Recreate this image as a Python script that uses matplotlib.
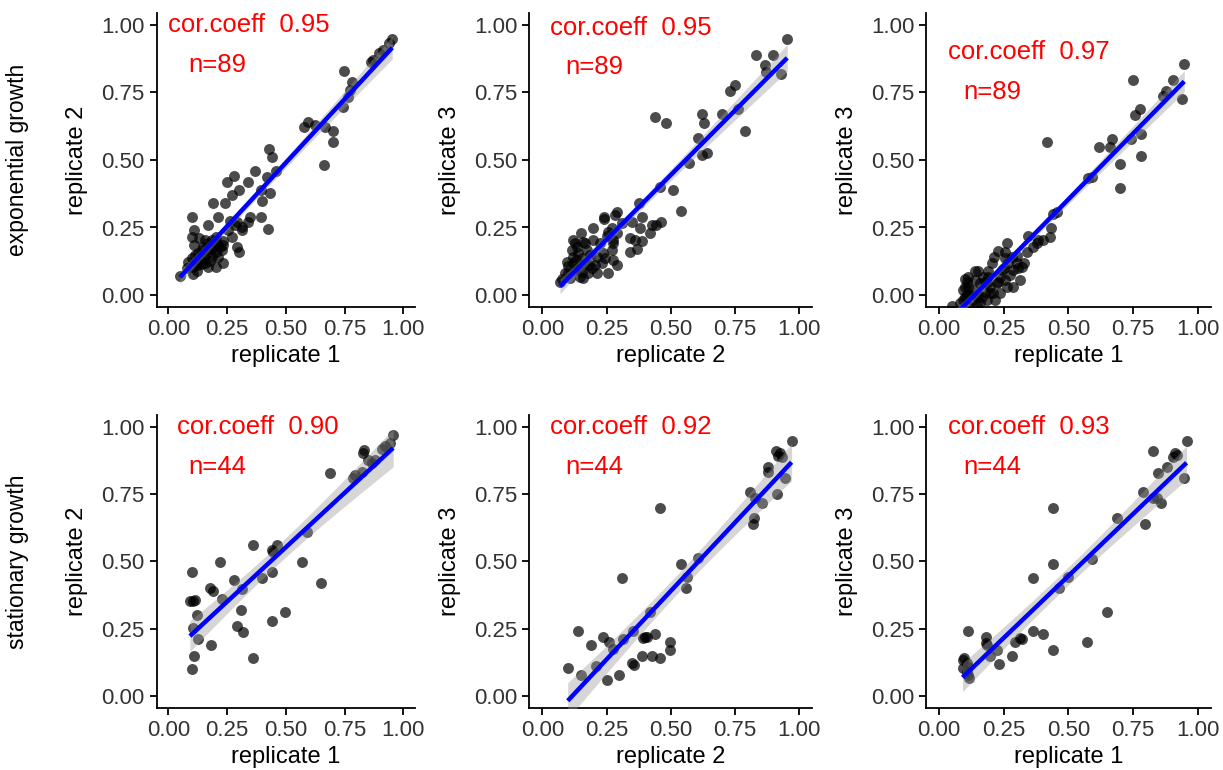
import numpy as np
import matplotlib
matplotlib.use("Agg")
import matplotlib.pyplot as plt

plt.rcParams['font.family'] = ['Liberation Sans', 'DejaVu Sans']

# ---------------- data ----------------
# exponential growth: replicate 1 (x) vs replicate 2 (y)
exp_r1_a = [0.953,0.940,0.915,0.898,0.872,0.862,0.749,0.780,0.773,0.763,
            0.745,0.579,0.593,0.624,0.667,0.702,0.699,0.661,0.430,0.440,
            0.457,0.369,0.418,0.281,0.248,0.340,0.301,0.270,0.394,0.433,
            0.400,0.191,0.241,0.099,0.210,0.170,0.262,0.291,0.348,0.394,
            0.340,0.255,0.312,0.423,0.111,0.099,0.130,0.201,0.231,0.291,
            0.301,0.196,0.227,0.142,0.113,0.163,0.182,0.187,0.099,0.135,
            0.156,0.213,0.234,0.201,0.142,0.106,0.050,0.106,0.121,0.203,
            0.170,0.220,0.153,0.128,0.177,0.085,0.284,0.315,0.121,0.170,
            0.206,0.149,0.111,0.187,0.270,0.156,0.078,0.234,0.128]
exp_r2_a = [0.948,0.932,0.907,0.895,0.870,0.864,0.830,0.790,0.759,0.732,
            0.698,0.621,0.640,0.630,0.621,0.607,0.568,0.481,0.540,0.510,
            0.458,0.459,0.438,0.442,0.420,0.420,0.389,0.370,0.389,0.379,
            0.349,0.342,0.342,0.290,0.288,0.259,0.275,0.272,0.290,0.290,
            0.269,0.241,0.241,0.243,0.241,0.216,0.210,0.214,0.201,0.179,
            0.160,0.179,0.167,0.167,0.148,0.154,0.169,0.142,0.136,0.130,
            0.120,0.140,0.120,0.102,0.115,0.102,0.072,0.078,0.090,0.160,
            0.191,0.177,0.140,0.157,0.127,0.123,0.259,0.253,0.117,0.105,
            0.191,0.179,0.185,0.204,0.216,0.204,0.099,0.185,0.111]

# exponential growth: replicate 2 (x) vs replicate 3 (y)
exp_r2_b = [0.953,0.830,0.899,0.866,0.869,0.929,0.730,0.750,0.763,0.698,
            0.620,0.630,0.789,0.438,0.480,0.607,0.620,0.639,0.571,0.458,
            0.508,0.540,0.377,0.389,0.289,0.283,0.240,0.240,0.198,0.270,
            0.350,0.425,0.441,0.462,0.150,0.250,0.276,0.289,0.341,0.389,
            0.419,0.341,0.370,0.127,0.160,0.114,0.121,0.173,0.140,0.237,
            0.276,0.289,0.099,0.127,0.205,0.211,0.257,0.147,0.160,0.075,
            0.069,0.101,0.121,0.166,0.192,0.244,0.211,0.134,0.153,0.179,
            0.108,0.095,0.185,0.140,0.231,0.166,0.198,0.276,0.121,0.156,
            0.088,0.270,0.257,0.311,0.380,0.224,0.361,0.130,0.180]
exp_r3_b = [0.947,0.889,0.889,0.852,0.827,0.819,0.757,0.778,0.688,0.670,
            0.669,0.638,0.609,0.658,0.638,0.580,0.519,0.527,0.488,0.399,
            0.389,0.310,0.342,0.290,0.309,0.296,0.290,0.280,0.249,0.247,
            0.272,0.259,0.259,0.272,0.231,0.219,0.191,0.231,0.210,0.201,
            0.231,0.160,0.169,0.191,0.198,0.167,0.142,0.167,0.154,0.154,
            0.130,0.111,0.107,0.093,0.111,0.080,0.080,0.068,0.062,0.058,
            0.049,0.080,0.117,0.117,0.099,0.136,0.142,0.179,0.136,0.080,
            0.062,0.123,0.148,0.099,0.117,0.191,0.204,0.204,0.204,0.086,
            0.080,0.167,0.235,0.265,0.247,0.191,0.204,0.130,0.110]

# exponential growth: replicate 1 (x) vs replicate 3 (y)
exp_r1_c = [0.948,0.751,0.906,0.878,0.867,0.941,0.777,0.758,0.670,0.620,
            0.661,0.741,0.780,0.780,0.700,0.700,0.416,0.577,0.590,0.455,
            0.442,0.432,0.429,0.403,0.384,0.365,0.345,0.339,0.262,0.229,
            0.213,0.255,0.300,0.300,0.307,0.274,0.287,0.313,0.242,0.236,
            0.236,0.191,0.197,0.152,0.113,0.113,0.107,0.101,0.126,0.152,
            0.178,0.197,0.210,0.159,0.052,0.120,0.146,0.094,0.133,0.159,
            0.184,0.216,0.107,0.139,0.171,0.184,0.223,0.255,0.268,0.281,
            0.204,0.120,0.091,0.101,0.081,0.165,0.262,0.320,0.378,0.255,
            0.178,0.146,0.229,0.287,0.190,0.140,0.250,0.330,0.100]
exp_r3_c = [0.856,0.796,0.796,0.757,0.737,0.725,0.688,0.667,0.577,0.547,
            0.547,0.577,0.596,0.516,0.485,0.398,0.565,0.432,0.438,0.309,
            0.300,0.247,0.214,0.204,0.204,0.177,0.219,0.160,0.191,0.164,
            0.140,0.136,0.144,0.117,0.099,0.074,0.031,0.056,0.093,0.068,
            0.006,0.068,0.031,0.089,0.068,0.031,0.000,-0.006,-0.019,0.000,
            0.012,0.006,0.006,-0.031,-0.040,-0.043,-0.037,-0.019,0.019,0.043,
            -0.019,-0.019,0.049,0.056,0.068,0.043,0.043,0.056,0.117,0.142,
            0.117,0.000,0.019,0.031,-0.031,-0.006,0.031,0.105,0.191,0.160,
            0.049,-0.006,0.049,0.093,0.090,0.090,0.100,0.120,0.060]

# stationary growth: replicate 1 (x) vs replicate 2 (y)
sta_r1_a = [0.957,0.943,0.922,0.908,0.834,0.830,0.879,0.851,0.865,0.823,
            0.794,0.787,0.688,0.589,0.461,0.440,0.447,0.359,0.220,0.567,
            0.440,0.397,0.279,0.315,0.177,0.191,0.099,0.648,0.227,0.092,
            0.106,0.113,0.121,0.309,0.496,0.440,0.291,0.319,0.106,0.128,
            0.182,0.111,0.102,0.359]
sta_r2_a = [0.969,0.938,0.928,0.916,0.913,0.903,0.876,0.876,0.864,0.833,
            0.821,0.808,0.829,0.610,0.561,0.542,0.536,0.561,0.499,0.499,
            0.459,0.439,0.431,0.397,0.400,0.391,0.459,0.421,0.360,0.353,
            0.353,0.356,0.301,0.319,0.311,0.280,0.260,0.239,0.251,0.210,
            0.189,0.149,0.099,0.140]

# stationary growth: replicate 2 (x) vs replicate 3 (y)
sta_r2_b = [0.970,0.908,0.925,0.931,0.918,0.879,0.877,0.944,0.912,0.809,
            0.827,0.853,0.825,0.821,0.458,0.607,0.540,0.562,0.559,0.309,
            0.419,0.354,0.438,0.315,0.399,0.393,0.237,0.261,0.276,0.189,
            0.137,0.497,0.497,0.458,0.428,0.387,0.348,0.358,0.209,0.099,
            0.150,0.250,0.300,0.406]
sta_r3_b = [0.948,0.911,0.901,0.889,0.891,0.851,0.833,0.808,0.750,0.759,
            0.734,0.718,0.660,0.639,0.699,0.511,0.490,0.441,0.400,0.437,
            0.313,0.243,0.230,0.210,0.218,0.214,0.220,0.202,0.173,0.189,
            0.241,0.202,0.171,0.140,0.149,0.149,0.124,0.115,0.111,0.103,
            0.078,0.059,0.078,0.220]

# stationary growth: replicate 1 (x) vs replicate 3 (y)
sta_r1_c = [0.957,0.829,0.912,0.919,0.880,0.848,0.947,0.787,0.841,0.857,
            0.798,0.689,0.442,0.593,0.442,0.500,0.465,0.362,0.651,0.113,
            0.182,0.362,0.401,0.313,0.320,0.294,0.184,0.223,0.197,0.281,
            0.442,0.571,0.232,0.091,0.097,0.107,0.113,0.094,0.113,0.117,
            0.107,0.906,0.829,0.182]
sta_r3_c = [0.948,0.911,0.901,0.895,0.849,0.829,0.808,0.759,0.734,0.718,
            0.639,0.660,0.699,0.507,0.490,0.441,0.400,0.439,0.311,0.241,
            0.220,0.241,0.230,0.217,0.210,0.202,0.189,0.171,0.149,0.150,
            0.171,0.202,0.119,0.134,0.140,0.121,0.109,0.103,0.078,0.066,
            0.090,0.889,0.734,0.196]

row_labels = ["exponential growth", "stationary growth"]
cor_values = ["0.95", "0.95", "0.97", "0.90", "0.92", "0.93"]
n_values = [89, 89, 89, 44, 44, 44]
x_labels = ["replicate 1", "replicate 2", "replicate 1",
            "replicate 1", "replicate 2", "replicate 1"]
y_labels = ["replicate 2", "replicate 3", "replicate 3",
            "replicate 2", "replicate 3", "replicate 3"]
tick_vals = [0.0, 0.25, 0.5, 0.75, 1.0]
tick_text = ["0.00", "0.25", "0.50", "0.75", "1.00"]

series = [(exp_r1_a, exp_r2_a), (exp_r2_b, exp_r3_b), (exp_r1_c, exp_r3_c),
          (sta_r1_a, sta_r2_a), (sta_r2_b, sta_r3_b), (sta_r1_c, sta_r3_c)]

# ---------------- layout (pixel geometry of each panel) ----------------
W, H = 1223, 770
XLIM = (-0.05, 1.05)
YLIM = (-0.045, 1.045)
col_geom = [(168.3, 235.0), (542.3, 257.0), (939.0, 258.7)]   # px of x=0, px per unit
row_geom = [(295.0, 270.0), (696.0, 269.3)]                    # px of y=0, px per unit
text_pos = [((0.000, 1.00), (0.085, 0.850)),
            ((0.030, 0.99), (0.091, 0.846)),
            ((0.036, 0.90), (0.094, 0.753)),
            ((0.036, 1.00), (0.085, 0.851)),
            ((0.030, 0.998), (0.091, 0.849)),
            ((0.036, 1.00), (0.094, 0.849))]

fig = plt.figure(figsize=(W / 100, H / 100), dpi=100)


def t_crit(df):
    return 1.96 * (1 + 1.2 / df)


for i, (xs, ys) in enumerate(series):
    r, c = divmod(i, 3)
    x0, sx = col_geom[c]
    y0, sy = row_geom[r]
    left_px = x0 + XLIM[0] * sx
    w_px = (XLIM[1] - XLIM[0]) * sx
    bottom_px = y0 - YLIM[0] * sy
    h_px = (YLIM[1] - YLIM[0]) * sy
    ax = fig.add_axes([left_px / W, 1 - bottom_px / H, w_px / W, h_px / H])

    x = np.asarray(xs)
    y = np.asarray(ys)
    ax.scatter(x, y, s=62, color="black", alpha=0.7, linewidths=0, zorder=2)

    # linear fit with 95% confidence band
    n = len(x)
    b, a = np.polyfit(x, y, 1)
    xx = np.linspace(x.min(), x.max(), 100)
    yy = a + b * xx
    resid = y - (a + b * x)
    s = np.sqrt(np.sum(resid ** 2) / (n - 2))
    se = s * np.sqrt(1 / n + (xx - x.mean()) ** 2 / np.sum((x - x.mean()) ** 2))
    tc = t_crit(n - 2)
    ax.fill_between(xx, yy - tc * se, yy + tc * se, color="#999999", alpha=0.4,
                    linewidth=0, zorder=3)
    ax.plot(xx, yy, color="#0000ff", lw=3.2, zorder=4, solid_capstyle="butt")

    (cx, cy), (nx, ny) = text_pos[i]
    ax.text(cx, cy, f"cor.coeff  {cor_values[i]}", color="red", fontsize=18.5,
            ha="left", va="center", zorder=5)
    ax.text(nx, ny, f"n={n_values[i]}", color="red", fontsize=18.5,
            ha="left", va="center", zorder=5)

    ax.set_xlim(*XLIM)
    ax.set_ylim(*YLIM)
    ax.set_xticks(tick_vals)
    ax.set_xticklabels(tick_text)
    ax.set_yticks(tick_vals)
    ax.set_yticklabels(tick_text)
    for side in ("top", "right"):
        ax.spines[side].set_visible(False)
    for side in ("left", "bottom"):
        ax.spines[side].set_linewidth(1.3)
        ax.spines[side].set_color("black")
    ax.tick_params(length=5, width=1.3, pad=3.5, labelsize=16,
                   labelcolor="#333333", color="black")
    ax.set_xlabel(x_labels[i], fontsize=17, color="black")
    ax.set_ylabel(y_labels[i], fontsize=17, color="black")
    ax.xaxis.set_label_coords(0.5, -38 / h_px)
    ax.yaxis.set_label_coords(-68.5 / w_px, 0.5)

    if c == 0:
        yc = 1 - (bottom_px - h_px / 2) / H
        fig.text(18 / W, yc, row_labels[r], rotation=90, ha="center", va="center",
                 fontsize=16.5, color="black")

fig.savefig("out.png", dpi=100)
